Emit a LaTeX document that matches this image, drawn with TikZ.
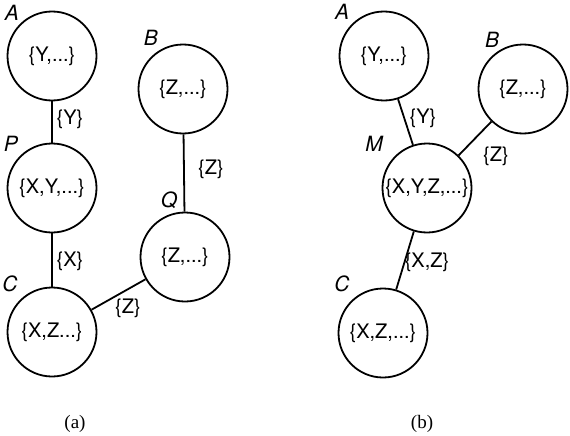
\documentclass[tikz,border=0pt]{standalone}
\usepackage{fontspec}
\setmainfont{TeX Gyre Heros}
\newfontfamily\capfont{Liberation Serif}
\begin{document}
\begin{tikzpicture}[x=1pt,y=-1pt,
  cl/.style={circle,draw,line width=1.8pt,minimum size=89pt,inner sep=0pt,font=\fontsize{20}{22}\selectfont},
  lab/.style={font=\fontsize{21}{23}\selectfont\itshape,inner sep=0pt},
  el/.style={font=\fontsize{20}{22}\selectfont,inner sep=0pt},
  captext/.style={font=\capfont\fontsize{19}{21}\selectfont,inner sep=0pt},
  ln/.style={line width=1.8pt}]
\useasboundingbox (0,0) rectangle (570,436);
% (a)
\node[cl] (aA) at (52,56) {\{Y,...\}};
\node[cl] (aB) at (183,89) {\{Z,...\}};
\node[cl] (aP) at (52,188) {\{X,Y,...\}};
\node[cl] (aQ) at (185,257) {\{Z,...\}};
\node[cl] (aC) at (52,332) {\{X,Z...\}};
\draw[ln] (aA) -- (aP);
\draw[ln] (aP) -- (aC);
\draw[ln] (aB) -- (aQ);
\draw[ln] (aC) -- (aQ);
\node[lab] (laA) at (12,13) {A};
\node[lab] (laB) at (151,38) {B};
\node[lab] (laP) at (11,144) {P};
\node[lab] (laQ) at (169,200) {Q};
\node[lab] (laC) at (10,284) {C};
\node[el] (eAP) at (70,119) {\{Y\}};
\node[el] (eBQ) at (211,169) {\{Z\}};
\node[el] (ePC) at (70,261) {\{X\}};
\node[el] (eCQ) at (128,308) {\{Z\}};
\node[captext] (capa) at (75,424) {(a)};
% (b)
\node[cl] (bA) at (384,56) {\{Y,...\}};
\node[cl] (bB) at (523,89) {\{Z,...\}};
\node[cl] (bM) at (427,188) {\{X,Y,Z,...\}};
\node[cl] (bC) at (383,333) {\{X,Z,...\}};
\draw[ln] (bA) -- (bM);
\draw[ln] (bB) -- (bM);
\draw[ln] (bC) -- (bM);
\node[lab] (lbA) at (342,12) {A};
\node[lab] (lbB) at (492,40) {B};
\node[lab] (lbM) at (374,144) {M};
\node[lab] (lbC) at (342,284) {C};
\node[el] (eAM) at (423,118) {\{Y\}};
\node[el] (eBM) at (496,156) {\{Z\}};
\node[el] (eCM) at (427,262) {\{X,Z\}};
\node[captext] (capb) at (422,424) {(b)};
\end{tikzpicture}
\end{document}
